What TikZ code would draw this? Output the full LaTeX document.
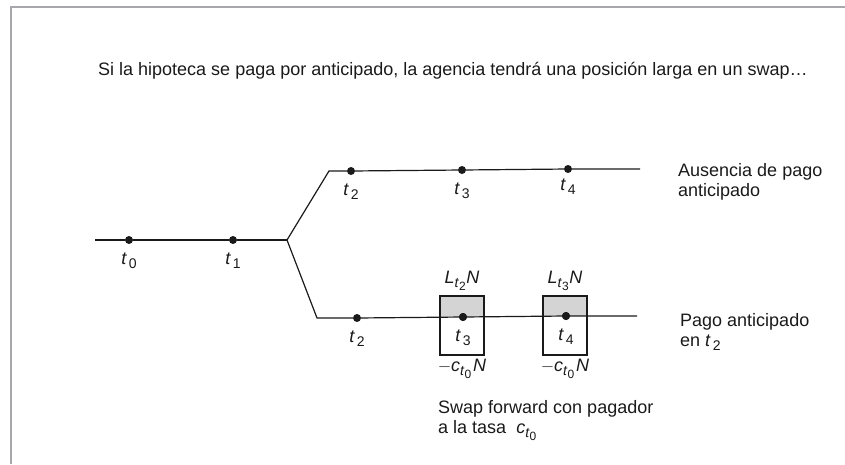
\documentclass[tikz,border=0pt]{standalone}
\usepackage{fontspec}
\setmainfont{Liberation Sans}
\usepackage{xcolor}
\usetikzlibrary{positioning}
\definecolor{framegray}{HTML}{A8A8AC}
\definecolor{cashgray}{HTML}{D4D4D4}
\definecolor{ink}{HTML}{1A1A1A}
\newcommand{\subsz}{\fontsize{14}{14}\selectfont}
\newcommand{\subsubsz}{\fontsize{12}{12}\selectfont}
\newcommand{\tsub}[1]{\textit{t}\kern2pt\raisebox{-4pt}{\subsz #1}}
\newcommand{\ltn}[1]{\textit{L}\raisebox{-4pt}{\subsz\textit{t}\raisebox{-3pt}{\subsubsz #1}}\kern0.5pt\textit{N}}
\newcommand{\ctn}{\textit{c}\raisebox{-4pt}{\subsz\textit{t}\raisebox{-3pt}{\subsubsz 0}}}
\tikzset{
  base/.style    = {font=\fontsize{18}{20}\selectfont, text=ink, inner sep=1pt},
  dot/.style     = {circle, fill=ink, inner sep=0pt, minimum size=8pt},
  tlab/.style    = {base, below=7pt of #1},
  path/.style    = {draw=ink, line width=1.2pt},
  cashbox/.style = {rectangle, draw=ink, line width=2pt, minimum width=44pt,
                    minimum height=59pt, inner sep=0pt},
  side/.style    = {base, align=left, anchor=base west},
}
\begin{document}
\begin{tikzpicture}[x=1pt, y=-1pt]
  \useasboundingbox (0,0) rectangle (845,464);

  % ----- frame -----
  \draw[framegray, line width=2.5pt] (10,7) -- (845,7);
  \draw[framegray, line width=2.5pt] (11,7) -- (11,464);

  \node[base, anchor=base west] (title) at (97,75)
       {Si la hipoteca se paga por anticipado, la agencia tendrá una posición larga en un swap…};

  % ----- trunk -----
  \coordinate (start) at (95,240);
  \node[dot] (t0) at (129,240) {};
  \node[dot] (t1) at (233,240) {};
  \coordinate (fork) at (287,240);

  % ----- no prepayment (top) -----
  \coordinate (ukink) at (329,171);
  \node[dot] (ut2) at (351,171) {};
  \node[dot] (ut3) at (462,170) {};
  \node[dot] (ut4) at (568,169) {};
  \coordinate (uend) at (640,169);

  % ----- prepayment (bottom) -----
  \coordinate (lkink) at (317,318);
  \node[cashbox] (box3) at (462,325.5) {};
  \node[cashbox] (box4) at (565,325.5) {};
  \fill[cashgray] (box3.north west) rectangle (box3.east |- 0,317);
  \fill[cashgray] (box4.north west) rectangle (box4.east |- 0,316);
  \node[dot] (lt2) at (357,318) {};
  \node[dot] (lt3) at (463,317) {};
  \node[dot] (lt4) at (566,316) {};
  \coordinate (lend) at (637,316);

  \draw[path] (start) -- (t0) -- (t1) -- (fork);
  \draw[path] (fork) -- (ukink) -- (ut2) -- (ut3) -- (ut4) -- (uend);
  \draw[path] (fork) -- (lkink) -- (lt2) -- (lt3) -- (lt4) -- (lend);
  \node[cashbox] at (box3) {};
  \node[cashbox] at (box4) {};
  \node[dot] at (lt3) {};
  \node[dot] at (lt4) {};

  % ----- date labels -----
  \node[tlab=t0] (lab0) {\tsub{0}};
  \node[tlab=t1] (lab1) {\tsub{1}};
  \node[tlab=ut2] (ulab2) {\tsub{2}};
  \node[tlab=ut3] (ulab3) {\tsub{3}};
  \node[base, below=4pt of ut4] (ulab4) {\tsub{4}};
  \node[tlab=lt2] (llab2) {\tsub{2}};
  \node[tlab=lt3] (llab3) {\tsub{3}};
  \node[tlab=lt4] (llab4) {\tsub{4}};

  % ----- cash flows -----
  \node[base, above=3pt of box3] (lflow3) {\ltn{2}};
  \node[base, above=3pt of box4] (lflow4) {\ltn{3}};
  \node[base, below=2pt of box3] (cflow3) {$-$\ctn\kern2pt\textit{N}};
  \node[base, below=2pt of box4] (cflow4) {$-$\ctn\kern2pt\textit{N}};

  % ----- side notes -----
  \node[side] (nopre) at (677,196) {Ausencia de pago\\anticipado};
  \node[side] (pre) at (679,346) {Pago anticipado\\en \tsub{2}};
  \node[side] (swap) at (437,433)
       {Swap forward con pagador\\a la tasa \ \ctn};

\end{tikzpicture}
\end{document}
